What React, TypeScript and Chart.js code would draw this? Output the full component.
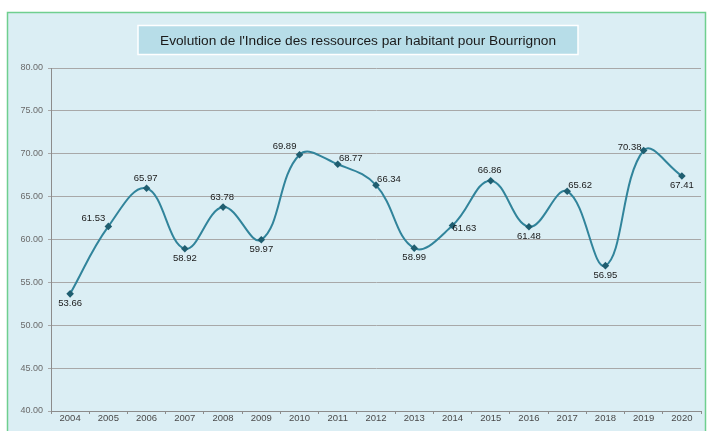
import React, { useEffect, useRef } from "react";
import { Chart, registerables } from "chart.js";

Chart.register(...registerables);

const years = ["2004","2005","2006","2007","2008","2009","2010","2011","2012","2013","2014","2015","2016","2017","2018","2019","2020"];
const indexValues = [53.66, 61.53, 65.97, 58.92, 63.78, 59.97, 69.89, 68.77, 66.34, 58.99, 61.63, 66.86, 61.48, 65.62, 56.95, 70.38, 67.41];
const labelPlacement = ["below","aboveLeft","above","below","above","below","aboveLeft","aboveRight","aboveRight","below","right","above","below","aboveRight","below","left","below"];
const titleText = "Evolution de l'Indice des ressources par habitant pour Bourrignon";

const FONT = "'Liberation Sans', Arial, sans-serif";

const placementOffsets: Record<string, [number, number]> = {
  below: [0, 9.5],
  above: [-1, -10],
  aboveLeft: [-15, -8],
  aboveRight: [13, -6],
  right: [12, 3],
  left: [-14, -3],
};

const backgroundPlugin = {
  id: "bgFrame",
  beforeDraw(chart: any) {
    const { ctx, width, height } = chart;
    ctx.save();
    ctx.fillStyle = "#ffffff";
    ctx.fillRect(0, 0, width, height);
    ctx.fillStyle = "#dbeef4";
    ctx.fillRect(7.5, 12.5, 698, height);
    ctx.strokeStyle = "#6fcf8f";
    ctx.lineWidth = 1.5;
    ctx.strokeRect(7.5, 12.5, 698, height);
    // title box
    ctx.fillStyle = "#b7dde8";
    ctx.fillRect(138, 25.5, 440, 29);
    ctx.strokeStyle = "#ffffff";
    ctx.lineWidth = 1.5;
    ctx.strokeRect(138, 25.5, 440, 29);
    ctx.fillStyle = "#1a1a1a";
    ctx.font = `13.7px ${FONT}`;
    ctx.textAlign = "center";
    ctx.textBaseline = "middle";
    ctx.fillText(titleText, 358, 41.5);
    ctx.restore();
  },
};

const labelPlugin = {
  id: "pointLabels",
  afterDatasetsDraw(chart: any) {
    const { ctx } = chart;
    const meta = chart.getDatasetMeta(0);
    ctx.save();
    ctx.font = `9.5px ${FONT}`;
    ctx.fillStyle = "#1a1a1a";
    ctx.textAlign = "center";
    ctx.textBaseline = "middle";
    meta.data.forEach((pt: any, i: number) => {
      const off = placementOffsets[labelPlacement[i]] || [0, -10];
      ctx.fillText(indexValues[i].toFixed(2), pt.x + off[0], pt.y + off[1]);
    });
    ctx.restore();
  },
};

export default function App() {
  const canvasRef = useRef<HTMLCanvasElement | null>(null);

  useEffect(() => {
    if (!canvasRef.current) return;
    const chart = new Chart(canvasRef.current, {
      type: "line",
      data: {
        labels: years,
        datasets: [
          {
            data: indexValues,
            borderColor: "#31849b",
            borderWidth: 2,
            tension: 0.4,
            pointStyle: "rectRot",
            pointRadius: 3.8,
            pointBackgroundColor: "#1f5e70",
            pointBorderColor: "#1f5e70",
            pointBorderWidth: 0,
            fill: false,
          },
        ],
      },
      options: {
        animation: false,
        responsive: false,
        maintainAspectRatio: false,
        layout: { padding: { top: 68, right: 7, bottom: 0, left: 0 } },
        plugins: {
          legend: { display: false },
          tooltip: { enabled: false },
          title: { display: false },
        },
        scales: {
          x: {
            offset: true,
            grid: {
              display: true,
              drawOnChartArea: false,
              drawTicks: true,
              tickLength: 3,
              color: "#8c8c8c",
              offset: true,
            },
            border: { display: true, color: "#8c8c8c", width: 1 },
            ticks: {
              color: "#4a4a4a",
              font: { size: 9.5, family: FONT },
              padding: -1,
              maxRotation: 0,
              autoSkip: false,
            },
            afterFit(scale: any) {
              scale.height = 20;
            },
          },
          y: {
            min: 40,
            max: 80,
            ticks: {
              stepSize: 5,
              color: "#6a6a6a",
              font: { size: 9, family: FONT },
              padding: 5,
              callback: (v: any) => Number(v).toFixed(2),
            },
            grid: {
              color: "#a8a8a8",
              lineWidth: 1,
              tickLength: 3,
            },
            border: { display: true, color: "#8c8c8c", width: 1 },
            afterFit(scale: any) {
              scale.width = 51;
            },
          },
        },
      },
      plugins: [backgroundPlugin, labelPlugin],
    });
    return () => chart.destroy();
  }, []);

  return (
    <div style={{ position: "fixed", left: 0, top: 0, width: 708, height: 431 }}>
      <canvas ref={canvasRef} width={708} height={431} style={{ display: "block", width: 708, height: 431 }} />
    </div>
  );
}
